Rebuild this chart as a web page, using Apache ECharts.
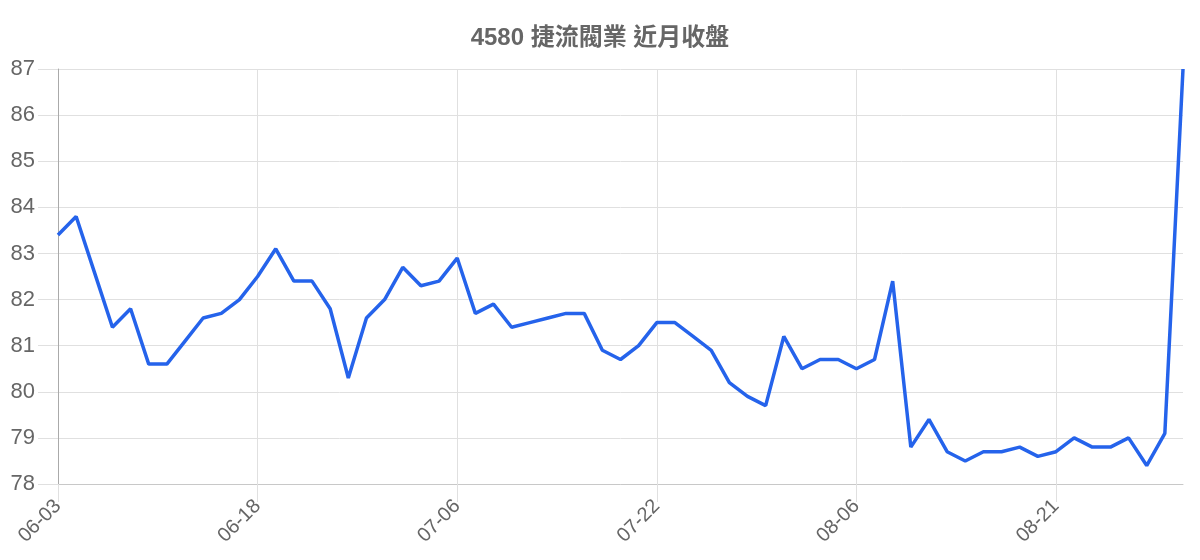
<!DOCTYPE html>
<html>
<head>
<meta charset="utf-8">
<script src="https://cdn.jsdelivr.net/npm/echarts@6/dist/echarts.min.js"></script>
<style>
html,body{margin:0;padding:0;background:#fff;}
#c{width:1200px;height:560px;}
</style>
</head>
<body>
<div id="c"></div>
<script>
const titleText = "4580 捷流閥業 近月收盤";
const dates = [
  "06-03","06-04","06-05","06-06","06-07","06-10","06-11","06-12","06-13","06-14","06-17","06-18",
  "06-19","06-20","06-21","06-24","06-25","06-26","06-27","06-28","07-01","07-02","07-06",
  "07-07","07-08","07-09","07-10","07-11","07-14","07-15","07-16","07-17","07-18","07-22",
  "07-23","07-24","07-25","07-28","07-29","07-30","07-31","08-01","08-04","08-05","08-06",
  "08-07","08-08","08-11","08-12","08-13","08-14","08-15","08-18","08-19","08-20","08-21",
  "08-22","08-25","08-26","08-27","08-28","08-29","09-01"
];
const closes = [
  83.4,83.8,82.6,81.4,81.8,80.6,80.6,81.1,81.6,81.7,82.0,82.5,
  83.1,82.4,82.4,81.8,80.3,81.6,82.0,82.7,82.3,82.4,82.9,
  81.7,81.9,81.4,81.5,81.6,81.7,81.7,80.9,80.7,81.0,81.5,
  81.5,81.2,80.9,80.2,79.9,79.7,81.2,80.5,80.7,80.7,80.5,
  80.7,82.4,78.8,79.4,78.7,78.5,78.7,78.7,78.8,78.6,78.7,
  79.0,78.8,78.8,79.0,78.4,79.1,87.0
];
const yMin = 78, yMax = 87, yStep = 1;

const chart = echarts.init(document.getElementById('c'));
chart.setOption({
  animation: false,
  title: {
    text: titleText, left: 'center', top: 21,
    textStyle: {fontFamily: 'Liberation Sans, Noto Sans CJK TC, sans-serif', fontSize: 24, fontWeight: 'bold', color: '#666'}
  },
  grid: {left: 58, right: 17, top: 69, bottom: 76, containLabel: false},
  xAxis: {
    type: 'category', data: dates, boundaryGap: false,
    axisLine: {lineStyle: {color: '#c8c8c8', width: 1}},
    axisTick: {show: true, interval: 10, length: 18, lineStyle: {color: '#e0e0e0'}},
    axisLabel: {interval: 10, rotate: 45, fontSize: 20, color: '#666', margin: 19, fontFamily: 'Liberation Sans, sans-serif'},
    splitLine: {show: true, interval: 10, lineStyle: {color: '#e0e0e0', width: 1}}
  },
  yAxis: {
    type: 'value', min: yMin, max: yMax, interval: yStep,
    axisLine: {show: true, lineStyle: {color: '#aaa', width: 1}},
    axisTick: {show: true, length: 20, lineStyle: {color: '#e0e0e0'}},
    axisLabel: {fontSize: 22, color: '#666', margin: 23, fontFamily: 'Liberation Sans, sans-serif'},
    splitLine: {show: true, lineStyle: {color: '#e0e0e0', width: 1}}
  },
  series: [{
    type: 'line', data: closes, showSymbol: false, symbol: 'none',
    lineStyle: {color: '#2563eb', width: 3.5},
    itemStyle: {color: '#2563eb'}
  }]
});
</script>
</body>
</html>
